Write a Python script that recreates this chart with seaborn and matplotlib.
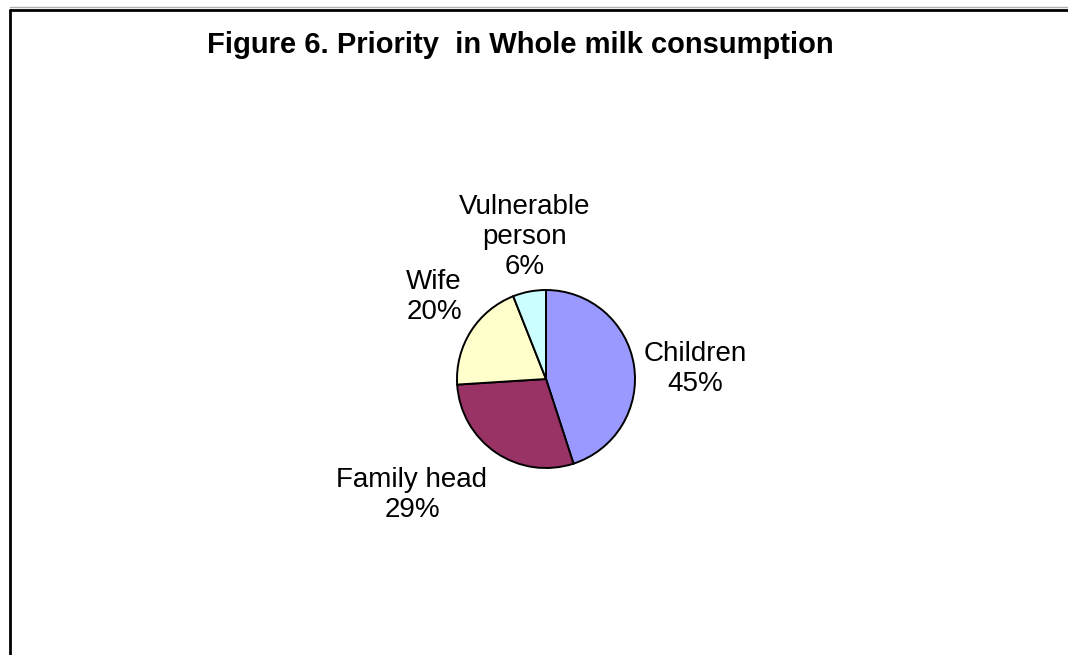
import matplotlib
matplotlib.use("Agg")
import matplotlib.pyplot as plt
import seaborn as sns
import numpy as np
from matplotlib.lines import Line2D

# ---- data ----
categories = ["Children", "Family head", "Wife", "Vulnerable\nperson"]
shares = [45, 29, 20, 6]
colors = ["#9999FF", "#993366", "#FFFFCC", "#CCFFFF"]
title = "Figure 6. Priority  in Whole milk consumption"

# ---- layout (pixels) ----
W, H = 1068, 655
pie_center = (546, H - 379)
pie_radius = 89
# label block centres as offsets from the pie centre (x right, y up)
label_offsets = [(149, 10), (-134, -116), (-112, 82), (-21, 142)]

sns.set_theme(style="white")
plt.rcParams["font.family"] = ["Liberation Sans", "DejaVu Sans"]

fig = plt.figure(figsize=(W / 100, H / 100), dpi=100)
fig.patch.set_facecolor("white")
ax = fig.add_axes([0, 0, 1, 1])

wedges, _ = ax.pie(
    shares,
    colors=colors,
    startangle=90,
    counterclock=False,
    center=pie_center,
    radius=pie_radius,
    wedgeprops=dict(edgecolor="black", linewidth=1.4),
    frame=True,
)
ax.set_xlim(0, W)
ax.set_ylim(0, H)
ax.set_aspect("equal")
ax.axis("off")

for cat, val, (dx, dy) in zip(categories, shares, label_offsets):
    ax.text(pie_center[0] + dx, pie_center[1] + dy, f"{cat}\n{val}%",
            ha="center", va="center", multialignment="center",
            fontsize=20, color="black", linespacing=1.22)

ax.text(520, H - 45, title, ha="center", va="center",
        fontsize=21, fontweight="bold", color="black")

# chart border (partly cropped)
fig.add_artist(Line2D([10 / W, 1.0], [1 - 7 / H, 1 - 7 / H], transform=fig.transFigure,
                      color="#b0b0b0", linewidth=1.0))
fig.add_artist(Line2D([10 / W, 1.0], [1 - 9.5 / H, 1 - 9.5 / H], transform=fig.transFigure,
                      color="black", linewidth=2.0))
fig.add_artist(Line2D([10 / W, 10 / W], [1 - 9.5 / H, 0.0], transform=fig.transFigure,
                      color="black", linewidth=2.0))

fig.savefig("out.png", dpi=100, facecolor="white")
